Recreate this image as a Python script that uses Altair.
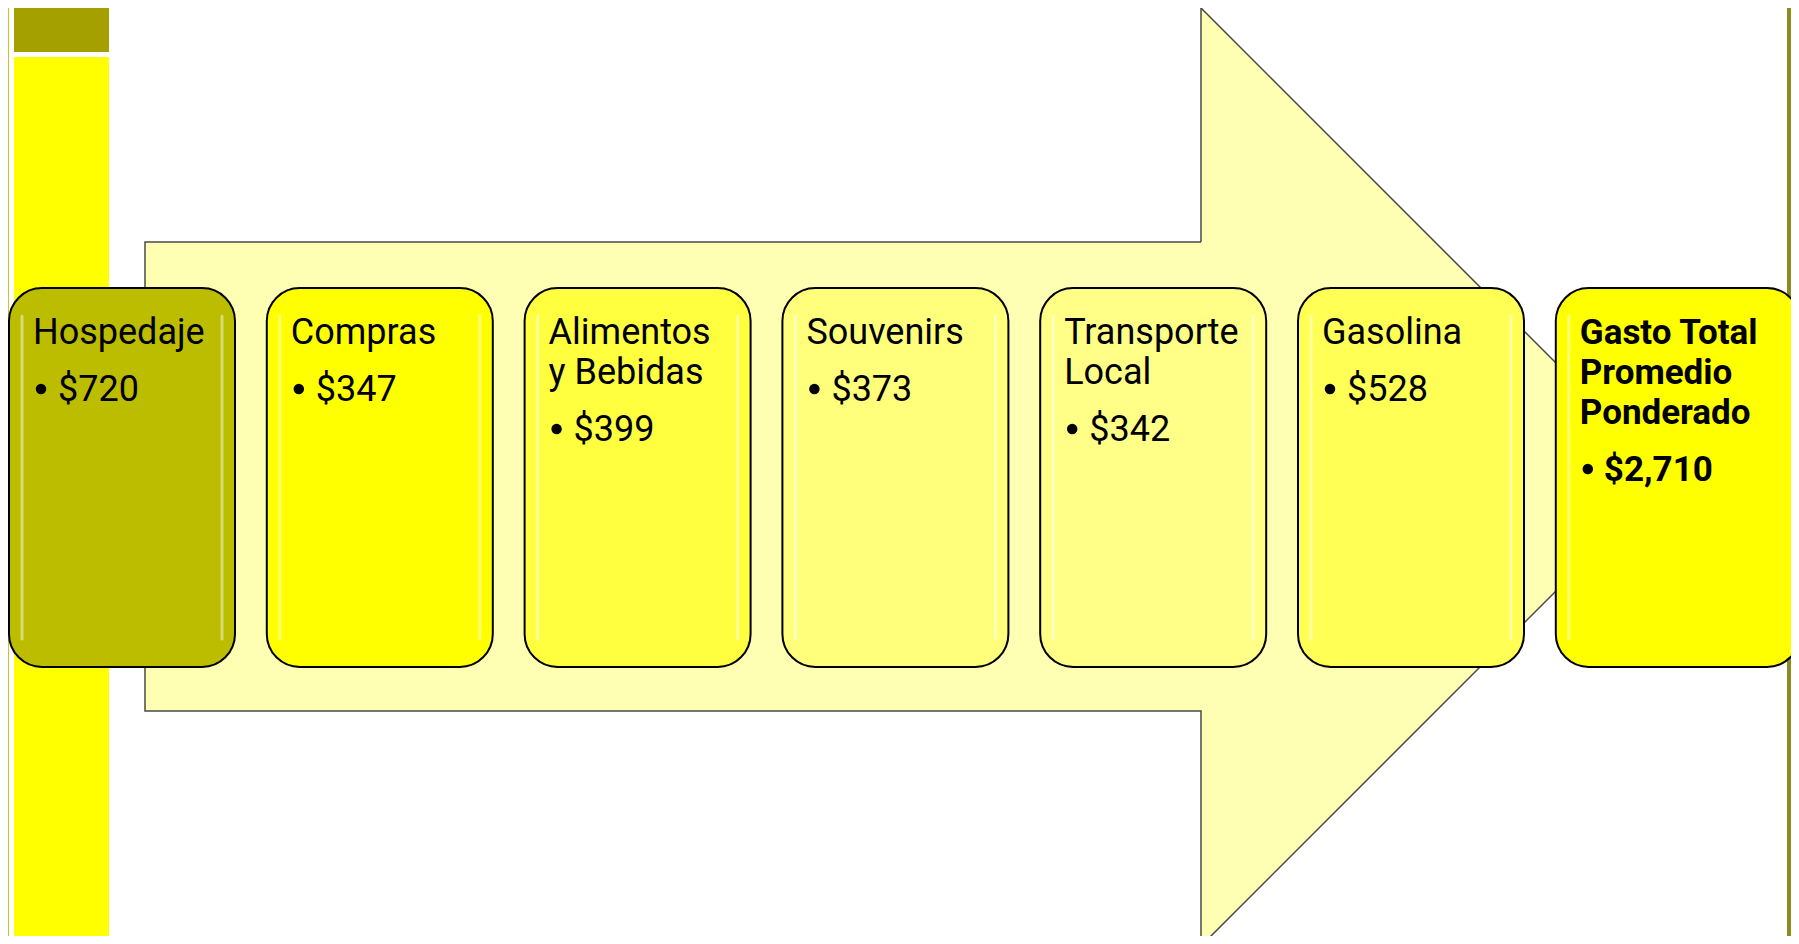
import altair as alt
import pandas as pd

# ---- data ----
categories = ["Hospedaje", "Compras", "Alimentos\ny Bebidas", "Souvenirs",
              "Transporte\nLocal", "Gasolina", "Gasto Total\nPromedio\nPonderado"]
values = [720, 347, 399, 373, 342, 528, 2710]
box_colors = ["#BDBD00", "#FFFF00", "#FFFF40", "#FFFF7C", "#FFFF88", "#FFFF55", "#FFFF00"]
is_total = [False, False, False, False, False, False, True]

# ---- layout (reference pixel coordinates) ----
W, H = 1799, 944
M = 8
XMAX, YMAX = W - M, H - M          # keep page free of scrollbars
BOX_X0, BOX_PITCH, BOX_W = 9, 257.8, 226
BOX_TOP, BOX_BOT = 288, 667
TITLE_BASE, LINE_H, VALUE_GAP = 344, 40, 57

xs = alt.Scale(domain=[M, XMAX], nice=False, zero=False)
ys = alt.Scale(domain=[M, YMAX], nice=False, zero=False, reverse=True)

def X(f):
    return alt.X(f, type="quantitative", scale=xs, axis=None)

def Y(f):
    return alt.Y(f, type="quantitative", scale=ys, axis=None)

# decorative background blocks
deco = pd.DataFrame([
    dict(x=0, x2=9, y=0, y2=H, c="#CAC522"),
    dict(x=14, x2=109, y=0, y2=52, c="#A3A000"),
    dict(x=14, x2=109, y=57, y2=H, c="#FFFF00"),
    dict(x=1787, x2=W, y=0, y2=H, c="#8C8C1E"),
])
deco_layer = alt.Chart(deco).mark_rect(clip=True).encode(
    x=X("x"), x2="x2", y=Y("y"), y2="y2",
    color=alt.Color("c:N", scale=None))

# big arrow: body fill, head fill, outline
AR_L, AR_SH, AR_TIP = 145, 1201, 1670
AR_T, AR_B, AR_HT, AR_HB, AR_MID = 242, 711, 8, 946, 477
ARROW_FILL = "#FFFFB4"
body = pd.DataFrame([dict(x=AR_L, x2=AR_SH + 1, y=AR_T, y2=AR_B)])
body_layer = alt.Chart(body).mark_rect(fill=ARROW_FILL, clip=True).encode(
    x=X("x"), x2="x2", y=Y("y"), y2="y2")
head = pd.DataFrame([dict(x=AR_SH, y=AR_HT, y2=AR_HB), dict(x=AR_TIP, y=AR_MID, y2=AR_MID)])
head_layer = alt.Chart(head).mark_area(fill=ARROW_FILL, clip=True).encode(
    x=X("x"), y=Y("y"), y2="y2")
outline = pd.DataFrame([
    dict(k=0, x=AR_SH, y=AR_T), dict(k=1, x=AR_L, y=AR_T), dict(k=2, x=AR_L, y=AR_B),
    dict(k=3, x=AR_SH, y=AR_B), dict(k=4, x=AR_SH, y=AR_HB), dict(k=5, x=AR_TIP, y=AR_MID),
    dict(k=6, x=AR_SH, y=AR_HT), dict(k=7, x=AR_SH, y=AR_T),
])
outline_layer = alt.Chart(outline).mark_line(
    color="#4a4a4a", strokeWidth=1.5, clip=True, strokeJoin="miter"
).encode(x=X("x"), y=Y("y"), order=alt.Order("k:Q"))

# boxes
rows = []
for i, (cat, v, col) in enumerate(zip(categories, values, box_colors)):
    bx = BOX_X0 + i * BOX_PITCH
    bw = (W + 1 - bx) if i == len(categories) - 1 else BOX_W
    rows.append(dict(cat=cat, x=bx, x2=bx + bw, y=BOX_TOP, y2=BOX_BOT, c=col,
                     hl1=bx + 13, hl2=bx + bw - 13))
boxes = pd.DataFrame(rows)
box_layer = alt.Chart(boxes).mark_rect(
    cornerRadius=33, stroke="#000000", strokeWidth=2, clip=True
).encode(x=X("x"), x2="x2", y=Y("y"), y2="y2", color=alt.Color("c:N", scale=None))

hl = pd.DataFrame(
    [dict(x=r["hl1"], y=BOX_TOP + 28, y2=BOX_BOT - 28) for r in rows] +
    [dict(x=r["hl2"], y=BOX_TOP + 28, y2=BOX_BOT - 28) for r in rows[:-1]]
)
hl_layer = alt.Chart(hl).mark_rule(
    color="white", strokeWidth=3, opacity=0.45, strokeCap="round"
).encode(x=X("x"), y=Y("y"), y2="y2")

# texts and bullets
trows, brows = [], []
for i, (cat, v) in enumerate(zip(categories, values)):
    bx = BOX_X0 + i * BOX_PITCH
    lines = cat.split("\n")
    for k, ln in enumerate(lines):
        trows.append(dict(t=ln, x=bx + 24, y=TITLE_BASE + LINE_H * k, bold=is_total[i]))
    vy = TITLE_BASE + LINE_H * (len(lines) - 1) + VALUE_GAP
    brows.append(dict(x=bx + 32, y=vy - 12))
    trows.append(dict(t="${:,}".format(v), x=bx + (48 if is_total[i] else 49), y=vy, bold=is_total[i]))
texts = pd.DataFrame(trows)
bullets = pd.DataFrame(brows)

bullet_layer = alt.Chart(bullets).mark_point(
    filled=True, shape="circle", size=110, color="#000000", opacity=1
).encode(x=X("x"), y=Y("y"))

reg_text = alt.Chart(texts[~texts["bold"]]).mark_text(
    align="left", baseline="alphabetic", font="Roboto", fontSize=36, color="#000000"
).encode(x=X("x"), y=Y("y"), text="t:N")

bold_text = alt.Chart(texts[texts["bold"]]).mark_text(
    align="left", baseline="alphabetic", font="Roboto", fontSize=35,
    fontWeight="bold", color="#000000"
).encode(x=X("x"), y=Y("y"), text="t:N")

chart = alt.layer(
    deco_layer, body_layer, head_layer, outline_layer, box_layer, hl_layer,
    bullet_layer, reg_text, bold_text
).properties(
    width=XMAX - M, height=YMAX - M, autosize=alt.AutoSizeParams(type="none"), padding=0,
    background="white"
).configure_view(stroke=None)

chart.save("out.html", embed_options={"renderer": "svg", "actions": False})
